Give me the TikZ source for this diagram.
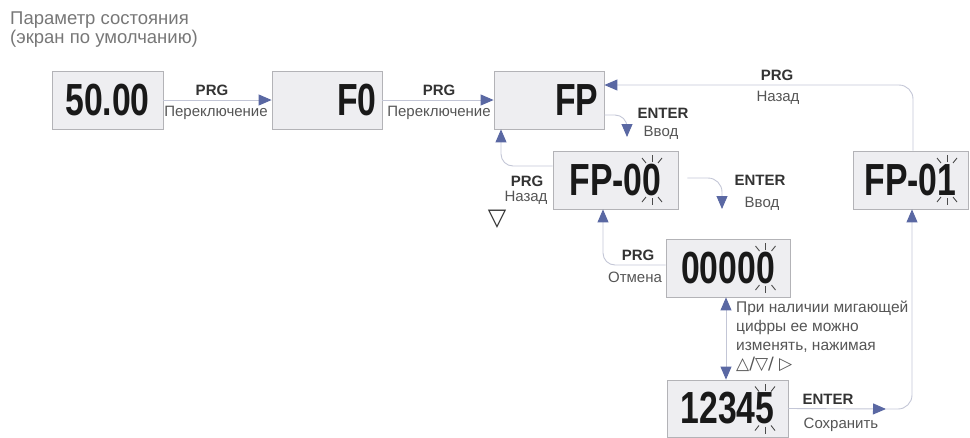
\documentclass[tikz,border=0pt]{standalone}
\usepackage{fontspec}
\setmainfont{Liberation Sans}
\newfontfamily\lcdfont[FakeStretch=0.75]{Liberation Sans}
\newfontfamily\symfont{DejaVu Sans}
\usetikzlibrary{arrows.meta}

\definecolor{boxfill}{HTML}{EEEEF1}
\definecolor{boxline}{HTML}{B3B3B7}
\definecolor{wirecol}{HTML}{C3C6D6}
\definecolor{tipblue}{HTML}{5A68A3}
\definecolor{capgray}{HTML}{555555}

\tikzset{
  screen/.style={draw=boxline, fill=boxfill, line width=0.8pt, inner xsep=4pt,
    font=\lcdfont\bfseries\fontsize{45}{45}\selectfont, text=black!90},
  conn/.style={draw=wirecol, line width=0.9pt},
  tipped/.style={-{Triangle[length=13pt,width=11pt,color=tipblue]}},
  bothtips/.style={{Triangle[length=13pt,width=11pt,color=tipblue]}-{Triangle[length=13pt,width=11pt,color=tipblue]}},
  keyname/.style={font=\bfseries\fontsize{15}{15}\selectfont, text=black!80, inner sep=0pt},
  action/.style={font=\fontsize{15}{15}\selectfont, text=capgray, inner sep=0pt},
  ray/.style={draw=black!70, line width=0.9pt}
}

% blinking marks round the last digit
\newcommand{\blinkmark}[2]{%
  \draw[ray] (#1,#2-18) -- (#1,#2-25);
  \draw[ray] (#1-6,#2-17) -- (#1-10,#2-22);
  \draw[ray] (#1+6,#2-17) -- (#1+10,#2-22);
  \draw[ray] (#1,#2+18) -- (#1,#2+25);
  \draw[ray] (#1-6,#2+17) -- (#1-10,#2+22);
  \draw[ray] (#1+6,#2+17) -- (#1+10,#2+22);
}

\begin{document}
\begin{tikzpicture}[x=1pt, y=-1pt]
  \useasboundingbox (0,0) rectangle (970,437);

  \node[anchor=north west, align=left, text=capgray!80, inner sep=0pt,
    font=\fontsize{18.5}{17}\selectfont] (title) at (10,12)
    {Параметр состояния\\(экран по умолчанию)};

  % screens
  \node[screen, minimum width=111pt, minimum height=58pt] (s5000) at (107.5,100) {50.00};
  \node[screen, minimum width=110pt, minimum height=58pt, inner xsep=5.5pt,
    text width=99pt, align=right] (sF0) at (327,100) {F0};
  \node[screen, minimum width=110pt, minimum height=58pt, inner xsep=5.5pt,
    text width=99pt, align=right] (sFP) at (549,100) {FP};
  \node[screen, minimum width=125pt, minimum height=58pt] (sFP00) at (615.5,180) {FP-00};
  \node[screen, minimum width=115pt, minimum height=58pt] (sFP01) at (910.5,180) {FP-01};
  \node[screen, minimum width=124pt, minimum height=58pt] (s00000) at (728,268) {00000};
  \node[screen, minimum width=121pt, minimum height=57pt] (s12345) at (727.5,408.5) {12345};

  \blinkmark{652}{180}
  \blinkmark{947}{180}
  \blinkmark{765.5}{268}
  \blinkmark{765}{408.5}

  % free ends
  \coordinate (enterA) at (627,137);
  \coordinate (enterB) at (722,209);
  \coordinate (midSave) at (886,409);

  % top row
  \draw[conn, tipped] (s5000) -- (sF0);
  \node[keyname] (prgA) at (212,90) {PRG};
  \node[action] (swA) at (216,113) {Переключение};

  \draw[conn, tipped] (sF0) -- (sFP);
  \node[keyname] (prgB) at (439,90) {PRG};
  \node[action] (swB) at (439,113) {Переключение};

  % FP -> FP-00
  \draw[conn, tipped, rounded corners=12pt] (sFP.east |- 0,115) -| (enterA);
  \node[keyname] (entA) at (663,113) {ENTER};
  \node[action] (inA) at (661,133) {Ввод};

  % FP-00 -> FP
  \draw[conn, tipped, rounded corners=12pt] (sFP00.west |- 0,166) -| (501,0 |- sFP.south);
  \node[keyname] (prgC) at (527,181) {PRG};
  \node[action] (backC) at (526,198) {Назад};
  \node[font=\symfont\bfseries\fontsize{24}{24}\selectfont, text=black!80, inner sep=0pt] (downKey) at (497,219) {▽};

  % FP-00 -> 00000
  \draw[conn, tipped, rounded corners=14pt] ([xshift=9pt]sFP00.east |- 0,178) -| (enterB);
  \node[keyname] (entB) at (760,180) {ENTER};
  \node[action] (inB) at (762,204) {Ввод};

  % 00000 -> FP-00
  \draw[conn, tipped, rounded corners=12pt] (s00000.west |- 0,265) -| (603,0 |- sFP00.south);
  \node[keyname] (prgD) at (638,255) {PRG};
  \node[action] (cancelD) at (635,277) {Отмена};

  % 00000 <-> 12345
  \draw[conn, bothtips] (726,0 |- s00000.south) -- (726,0 |- s12345.north);
  \node[action, anchor=north west, align=left, font=\fontsize{15.5}{19}\selectfont]
    (hintTxt) at (736,301)
    {При наличии мигающей\\цифры ее можно\\изменять, нажимая\\{\symfont\fontsize{17}{19}\selectfont △/▽/ ▷}};

  % 12345 -> FP-01
  \draw[conn, tipped] (s12345.east) -- (midSave);
  \draw[conn, tipped, rounded corners=14pt] (midSave) -| (912,0 |- sFP01.south);
  \node[keyname] (entE) at (828,399) {ENTER};
  \node[action] (saveE) at (841,425) {Сохранить};

  % FP-01 -> FP
  \draw[conn, tipped, rounded corners=14pt] (913,0 |- sFP01.north) |- (sFP.east |- 0,85);
  \node[keyname] (prgF) at (777,75) {PRG};
  \node[action] (backF) at (778,98) {Назад};
\end{tikzpicture}
\end{document}
